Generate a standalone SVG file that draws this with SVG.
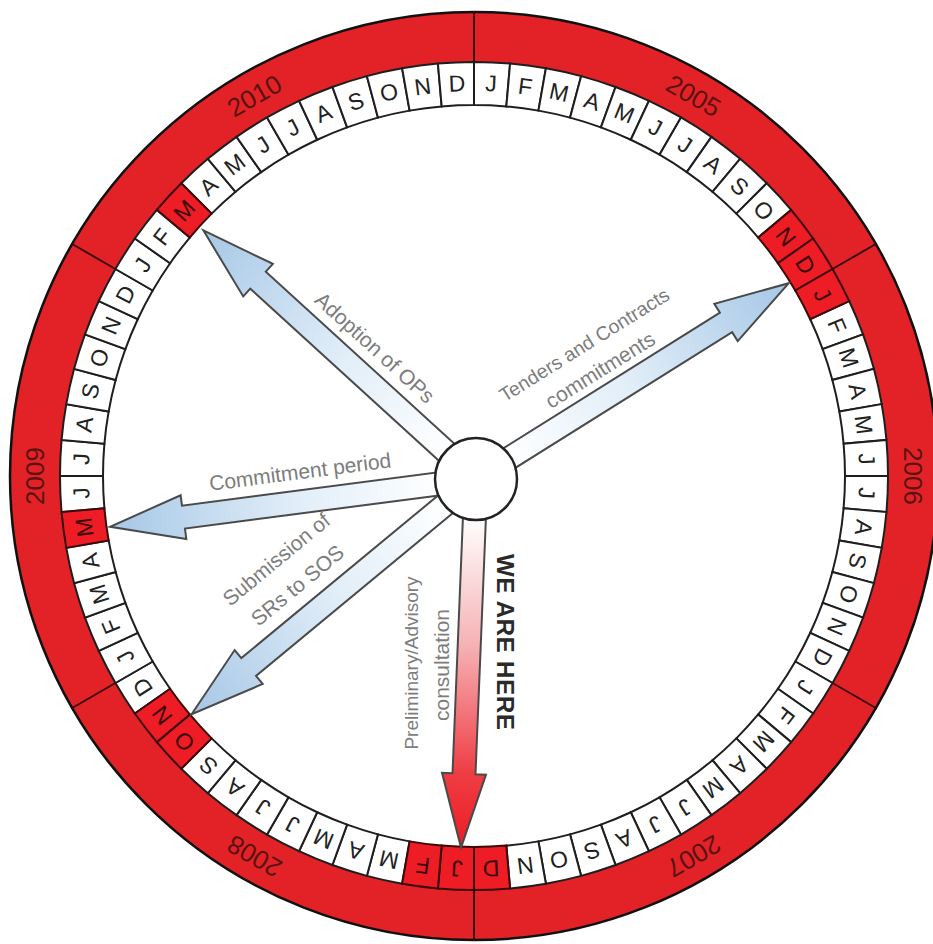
<svg xmlns="http://www.w3.org/2000/svg" width="933" height="944" viewBox="0 0 933 944">
<defs>
<style>
.mb{fill:#fff;stroke:#1e1e1e;stroke-width:2}
.mr{fill:#ee1c24;stroke:#3a0a0a;stroke-width:2}
.ml{font-family:"Liberation Sans",Arial,sans-serif;font-size:23px;fill:#222;text-anchor:middle}
.mlr{fill:#3a0808}
.yr{font-family:"Liberation Sans",Arial,sans-serif;font-size:26px;fill:#5a1212;text-anchor:middle}
.sep{stroke:#3a0a0a;stroke-width:2}
.arr{stroke:#4a4a4a;stroke-width:2;stroke-linejoin:miter}
.lbl{font-family:"Liberation Sans",Arial,sans-serif;font-size:21px;fill:#7d7d7d;text-anchor:middle}
.here{font-family:"Liberation Sans",Arial,sans-serif;font-size:24px;font-weight:bold;fill:#2a2a2a;text-anchor:middle}
</style>
<path id="mbox" d="M455.94,62.39 A414,414 0 0 1 492.06,62.39 L490.18,105.35 A371,371 0 0 0 457.82,105.35 Z"/>
<path id="arrow" d="M0,-11.5 H295 V-22 L369,0 L295,22 V11.5 H0 Z"/>
<linearGradient id="gb" x1="0" y1="0" x2="1" y2="0">
<stop offset="0.1" stop-color="#ffffff"/><stop offset="0.5" stop-color="#e0edf8"/><stop offset="1" stop-color="#a6c7e6"/>
</linearGradient>
<linearGradient id="gr" x1="0" y1="0" x2="1" y2="0">
<stop offset="0.1" stop-color="#ffffff"/><stop offset="0.45" stop-color="#f6b2b5"/><stop offset="0.8" stop-color="#ee3d43"/><stop offset="1" stop-color="#ec1c24"/>
</linearGradient>
</defs>
<rect width="933" height="944" fill="#fff"/>

<g id="year-ring">
<circle cx="474" cy="476" r="439" fill="none" stroke="#e32227" stroke-width="50"/>
<circle cx="474" cy="476" r="464" fill="none" stroke="#111" stroke-width="2.5"/>
<line class="sep" x1="474" y1="11" x2="474" y2="63"/>
<line class="sep" x1="474" y1="11" x2="474" y2="63" transform="rotate(60 474 476)"/>
<line class="sep" x1="474" y1="11" x2="474" y2="63" transform="rotate(120 474 476)"/>
<line class="sep" x1="474" y1="11" x2="474" y2="63" transform="rotate(180 474 476)"/>
<line class="sep" x1="474" y1="11" x2="474" y2="63" transform="rotate(240 474 476)"/>
<line class="sep" x1="474" y1="11" x2="474" y2="63" transform="rotate(300 474 476)"/>
<text class="yr" x="474" y="46" transform="rotate(30 474 476)">2005</text>
<text class="yr" x="474" y="46" transform="rotate(90 474 476)">2006</text>
<text class="yr" x="474" y="46" transform="rotate(150 474 476)">2007</text>
<text class="yr" x="474" y="46" transform="rotate(210 474 476)">2008</text>
<text class="yr" x="474" y="46" transform="rotate(270 474 476)">2009</text>
<text class="yr" x="474" y="46" transform="rotate(330 474 476)">2010</text>
</g>

<g id="month-ring">
<g transform="rotate(2.5 474 476)"><use href="#mbox" class="mb"/><text class="ml" x="474" y="91">J</text></g>
<g transform="rotate(7.5 474 476)"><use href="#mbox" class="mb"/><text class="ml" x="474" y="91">F</text></g>
<g transform="rotate(12.5 474 476)"><use href="#mbox" class="mb"/><text class="ml" x="474" y="91">M</text></g>
<g transform="rotate(17.5 474 476)"><use href="#mbox" class="mb"/><text class="ml" x="474" y="91">A</text></g>
<g transform="rotate(22.5 474 476)"><use href="#mbox" class="mb"/><text class="ml" x="474" y="91">M</text></g>
<g transform="rotate(27.5 474 476)"><use href="#mbox" class="mb"/><text class="ml" x="474" y="91">J</text></g>
<g transform="rotate(32.5 474 476)"><use href="#mbox" class="mb"/><text class="ml" x="474" y="91">J</text></g>
<g transform="rotate(37.5 474 476)"><use href="#mbox" class="mb"/><text class="ml" x="474" y="91">A</text></g>
<g transform="rotate(42.5 474 476)"><use href="#mbox" class="mb"/><text class="ml" x="474" y="91">S</text></g>
<g transform="rotate(47.5 474 476)"><use href="#mbox" class="mb"/><text class="ml" x="474" y="91">O</text></g>
<g transform="rotate(67.5 474 476)"><use href="#mbox" class="mb"/><text class="ml" x="474" y="91">F</text></g>
<g transform="rotate(72.5 474 476)"><use href="#mbox" class="mb"/><text class="ml" x="474" y="91">M</text></g>
<g transform="rotate(77.5 474 476)"><use href="#mbox" class="mb"/><text class="ml" x="474" y="91">A</text></g>
<g transform="rotate(82.5 474 476)"><use href="#mbox" class="mb"/><text class="ml" x="474" y="91">M</text></g>
<g transform="rotate(87.5 474 476)"><use href="#mbox" class="mb"/><text class="ml" x="474" y="91">J</text></g>
<g transform="rotate(92.5 474 476)"><use href="#mbox" class="mb"/><text class="ml" x="474" y="91">J</text></g>
<g transform="rotate(97.5 474 476)"><use href="#mbox" class="mb"/><text class="ml" x="474" y="91">A</text></g>
<g transform="rotate(102.5 474 476)"><use href="#mbox" class="mb"/><text class="ml" x="474" y="91">S</text></g>
<g transform="rotate(107.5 474 476)"><use href="#mbox" class="mb"/><text class="ml" x="474" y="91">O</text></g>
<g transform="rotate(112.5 474 476)"><use href="#mbox" class="mb"/><text class="ml" x="474" y="91">N</text></g>
<g transform="rotate(117.5 474 476)"><use href="#mbox" class="mb"/><text class="ml" x="474" y="91">D</text></g>
<g transform="rotate(122.5 474 476)"><use href="#mbox" class="mb"/><text class="ml" x="474" y="91">J</text></g>
<g transform="rotate(127.5 474 476)"><use href="#mbox" class="mb"/><text class="ml" x="474" y="91">F</text></g>
<g transform="rotate(132.5 474 476)"><use href="#mbox" class="mb"/><text class="ml" x="474" y="91">M</text></g>
<g transform="rotate(137.5 474 476)"><use href="#mbox" class="mb"/><text class="ml" x="474" y="91">A</text></g>
<g transform="rotate(142.5 474 476)"><use href="#mbox" class="mb"/><text class="ml" x="474" y="91">M</text></g>
<g transform="rotate(147.5 474 476)"><use href="#mbox" class="mb"/><text class="ml" x="474" y="91">J</text></g>
<g transform="rotate(152.5 474 476)"><use href="#mbox" class="mb"/><text class="ml" x="474" y="91">J</text></g>
<g transform="rotate(157.5 474 476)"><use href="#mbox" class="mb"/><text class="ml" x="474" y="91">A</text></g>
<g transform="rotate(162.5 474 476)"><use href="#mbox" class="mb"/><text class="ml" x="474" y="91">S</text></g>
<g transform="rotate(167.5 474 476)"><use href="#mbox" class="mb"/><text class="ml" x="474" y="91">O</text></g>
<g transform="rotate(172.5 474 476)"><use href="#mbox" class="mb"/><text class="ml" x="474" y="91">N</text></g>
<g transform="rotate(192.5 474 476)"><use href="#mbox" class="mb"/><text class="ml" x="474" y="91">M</text></g>
<g transform="rotate(197.5 474 476)"><use href="#mbox" class="mb"/><text class="ml" x="474" y="91">A</text></g>
<g transform="rotate(202.5 474 476)"><use href="#mbox" class="mb"/><text class="ml" x="474" y="91">M</text></g>
<g transform="rotate(207.5 474 476)"><use href="#mbox" class="mb"/><text class="ml" x="474" y="91">J</text></g>
<g transform="rotate(212.5 474 476)"><use href="#mbox" class="mb"/><text class="ml" x="474" y="91">J</text></g>
<g transform="rotate(217.5 474 476)"><use href="#mbox" class="mb"/><text class="ml" x="474" y="91">A</text></g>
<g transform="rotate(222.5 474 476)"><use href="#mbox" class="mb"/><text class="ml" x="474" y="91">S</text></g>
<g transform="rotate(237.5 474 476)"><use href="#mbox" class="mb"/><text class="ml" x="474" y="91">D</text></g>
<g transform="rotate(242.5 474 476)"><use href="#mbox" class="mb"/><text class="ml" x="474" y="91">J</text></g>
<g transform="rotate(247.5 474 476)"><use href="#mbox" class="mb"/><text class="ml" x="474" y="91">F</text></g>
<g transform="rotate(252.5 474 476)"><use href="#mbox" class="mb"/><text class="ml" x="474" y="91">M</text></g>
<g transform="rotate(257.5 474 476)"><use href="#mbox" class="mb"/><text class="ml" x="474" y="91">A</text></g>
<g transform="rotate(267.5 474 476)"><use href="#mbox" class="mb"/><text class="ml" x="474" y="91">J</text></g>
<g transform="rotate(272.5 474 476)"><use href="#mbox" class="mb"/><text class="ml" x="474" y="91">J</text></g>
<g transform="rotate(277.5 474 476)"><use href="#mbox" class="mb"/><text class="ml" x="474" y="91">A</text></g>
<g transform="rotate(282.5 474 476)"><use href="#mbox" class="mb"/><text class="ml" x="474" y="91">S</text></g>
<g transform="rotate(287.5 474 476)"><use href="#mbox" class="mb"/><text class="ml" x="474" y="91">O</text></g>
<g transform="rotate(292.5 474 476)"><use href="#mbox" class="mb"/><text class="ml" x="474" y="91">N</text></g>
<g transform="rotate(297.5 474 476)"><use href="#mbox" class="mb"/><text class="ml" x="474" y="91">D</text></g>
<g transform="rotate(302.5 474 476)"><use href="#mbox" class="mb"/><text class="ml" x="474" y="91">J</text></g>
<g transform="rotate(307.5 474 476)"><use href="#mbox" class="mb"/><text class="ml" x="474" y="91">F</text></g>
<g transform="rotate(317.5 474 476)"><use href="#mbox" class="mb"/><text class="ml" x="474" y="91">A</text></g>
<g transform="rotate(322.5 474 476)"><use href="#mbox" class="mb"/><text class="ml" x="474" y="91">M</text></g>
<g transform="rotate(327.5 474 476)"><use href="#mbox" class="mb"/><text class="ml" x="474" y="91">J</text></g>
<g transform="rotate(332.5 474 476)"><use href="#mbox" class="mb"/><text class="ml" x="474" y="91">J</text></g>
<g transform="rotate(337.5 474 476)"><use href="#mbox" class="mb"/><text class="ml" x="474" y="91">A</text></g>
<g transform="rotate(342.5 474 476)"><use href="#mbox" class="mb"/><text class="ml" x="474" y="91">S</text></g>
<g transform="rotate(347.5 474 476)"><use href="#mbox" class="mb"/><text class="ml" x="474" y="91">O</text></g>
<g transform="rotate(352.5 474 476)"><use href="#mbox" class="mb"/><text class="ml" x="474" y="91">N</text></g>
<g transform="rotate(357.5 474 476)"><use href="#mbox" class="mb"/><text class="ml" x="474" y="91">D</text></g>
<!-- highlighted months -->
<g transform="rotate(52.5 474 476)"><use href="#mbox" class="mr"/><text class="ml mlr" x="474" y="91">N</text></g>
<g transform="rotate(57.5 474 476)"><use href="#mbox" class="mr"/><text class="ml mlr" x="474" y="91">D</text></g>
<g transform="rotate(62.5 474 476)"><use href="#mbox" class="mr"/><text class="ml mlr" x="474" y="91">J</text></g>
<g transform="rotate(177.5 474 476)"><use href="#mbox" class="mr"/><text class="ml mlr" x="474" y="91">D</text></g>
<g transform="rotate(182.5 474 476)"><use href="#mbox" class="mr"/><text class="ml mlr" x="474" y="91">J</text></g>
<g transform="rotate(187.5 474 476)"><use href="#mbox" class="mr"/><text class="ml mlr" x="474" y="91">F</text></g>
<g transform="rotate(227.5 474 476)"><use href="#mbox" class="mr"/><text class="ml mlr" x="474" y="91">O</text></g>
<g transform="rotate(232.5 474 476)"><use href="#mbox" class="mr"/><text class="ml mlr" x="474" y="91">N</text></g>
<g transform="rotate(262.5 474 476)"><use href="#mbox" class="mr"/><text class="ml mlr" x="474" y="91">M</text></g>
<g transform="rotate(312.5 474 476)"><use href="#mbox" class="mr"/><text class="ml mlr" x="474" y="91">M</text></g>
</g>

<g id="connectors">
<use id="arrow-adoption" href="#arrow" class="arr" fill="url(#gb)" transform="translate(476 479) rotate(-137.63)"/>
<use id="arrow-tenders" href="#arrow" class="arr" fill="url(#gb)" transform="translate(476 479) rotate(-32.05)"/>
<use id="arrow-commitment" href="#arrow" class="arr" fill="url(#gb)" transform="translate(476 479) rotate(172.57)"/>
<use id="arrow-submission" href="#arrow" class="arr" fill="url(#gb)" transform="translate(476 479) rotate(140.41)"/>
<use id="arrow-here" href="#arrow" class="arr" fill="url(#gr)" transform="translate(476 479) rotate(92.33)"/>
</g>

<g id="center">
<circle cx="476" cy="479" r="41" fill="#fff" stroke="#222" stroke-width="2.5"/>
</g>

<g id="label-adoption"><text class="lbl" x="370" y="353" transform="rotate(42.4 370 353)">Adoption of OPs</text></g>
<g id="label-tenders">
<text class="lbl" x="588" y="350.5" transform="rotate(-32.05 588 350.5)" style="font-size:19.5px">Tenders and Contracts</text>
<text class="lbl" x="604" y="376" transform="rotate(-32.05 604 376)">commitments</text>
</g>
<g id="label-commitment"><text class="lbl" x="301" y="479" transform="rotate(-7.43 301 479)">Commitment period</text></g>
<g id="label-submission">
<text class="lbl" x="281" y="565" transform="rotate(-39.6 281 565)">Submission of</text>
<text class="lbl" x="302" y="591" transform="rotate(-39.6 302 591)">SRs to SOS</text>
</g>
<g id="label-consultation">
<text class="lbl" x="418" y="663" transform="rotate(-90 418 663)" style="font-size:19px">Preliminary/Advisory</text>
<text class="lbl" x="449" y="665" transform="rotate(-90 449 665)">consultation</text>
</g>
<g id="label-here"><text class="here" x="497" y="642" transform="rotate(90 497 642)" textLength="176">WE ARE HERE</text></g>
</svg>
